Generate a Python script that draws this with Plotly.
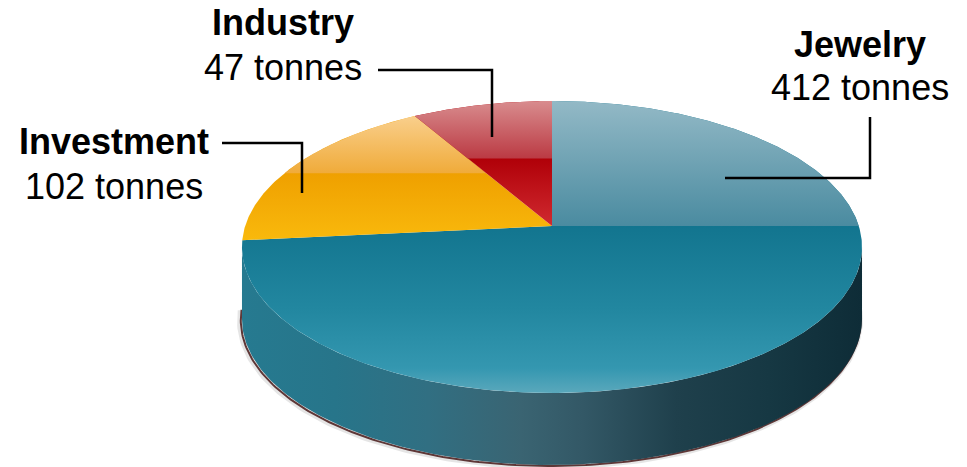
import numpy as np
import plotly.graph_objects as go

# ---------------- data ----------------
categories = ["Jewelry", "Investment", "Industry"]
values = [412, 102, 47]
unit = "tonnes"

# ---------------- styling / layout ----------------
W, H = 967, 467
CX, CY = 552.0, 226.0        # pie apex on screen
A, B, K = 306.8, 143.0, 0.1438  # perspective ellipse parameters
DEPTH = 72.0                 # thickness of pie

base_scales = {
    "Jewelry": [[0, "#12758f"], [0.5, "#2287a0"], [0.85, "#3497b0"], [1, "#5aa8bc"]],
    "Investment": [[0, "#efa000"], [1, "#f9b90c"]],
    "Industry": [[0, "#b00008"], [1, "#d02a30"]],
}
gloss_scales = {
    "Jewelry": [[0, "#93b9c6"], [1, "#4a8ba0"]],
    "Investment": [[0, "#f9cf8c"], [1, "#f0ab3a"]],
    "Industry": [[0, "#d88c8e"], [1, "#bb3a43"]],
}
side_scale = [[0, "#267a90"], [0.15, "#27758a"], [0.3, "#316f82"], [0.45, "#3a6472"],
              [0.55, "#335866"], [0.7, "#1f404c"], [0.85, "#163843"], [1, "#0e2c37"]]

# label text positions (x, y_title, y_value) and leader polyline (screen px)
label_pos = {
    "Jewelry": (860, 44, 87),
    "Investment": (114, 141, 186),
    "Industry": (283, 22, 67),
}
leaders = {
    "Jewelry": ([725, 870, 870], [178, 178, 117]),
    "Investment": ([222, 302, 302], [143, 143, 193]),
    "Industry": ([378, 492, 492], [70, 70, 137]),
}


def proj(phi_deg, dy=0.0):
    phi = np.radians(phi_deg)
    u, v = np.sin(phi), np.cos(phi)
    den = 1 + K * v
    return CX + A * u / den, CY + dy - B * v / den


def clip_above(xs, ys, yb):
    pts = list(zip(xs, ys))
    out = []
    n = len(pts)
    for i in range(n):
        P, Q = pts[i], pts[(i + 1) % n]
        pin, qin = P[1] <= yb, Q[1] <= yb
        if pin:
            out.append(P)
        if pin != qin:
            t = (yb - P[1]) / (Q[1] - P[1])
            out.append((P[0] + t * (Q[0] - P[0]), yb))
    return [p[0] for p in out], [p[1] for p in out]


fig = go.Figure()
common = dict(mode="lines", hoverinfo="skip", showlegend=False)

# ---- side wall (front visible part) ----
phi_t = np.degrees(np.arccos(-K))          # tangent angle (~98.3)
front = np.linspace(phi_t, 360 - phi_t, 200)
tx, ty = proj(front)
bx, by = proj(front[::-1], DEPTH)
sx = np.concatenate([tx, bx])
sy = np.concatenate([ty, by])

# soft shadow under the wall
shx, shy = proj(np.linspace(phi_t - 4, 364 - phi_t, 200)[::-1], DEPTH)
fig.add_trace(go.Scatter(x=shx - 2, y=shy + 1.5, line=dict(color="rgba(0,0,0,0.10)", width=6), **common))
fig.add_trace(go.Scatter(x=shx - 1.2, y=shy + 1.0, line=dict(color="rgba(70,25,25,0.85)", width=2), **common))

fig.add_trace(go.Scatter(
    x=sx, y=sy, fill="toself", line=dict(width=0),
    fillgradient=dict(type="horizontal", colorscale=side_scale, start=float(sx.min()), stop=float(sx.max())),
    **common))

# ---- top face slices ----
total = float(sum(values))
start = 0.0
for cat, val in zip(categories, values):
    span = 360.0 * val / total
    phis = np.linspace(start, start + span, max(int(span * 2), 6))
    ax, ay = proj(phis)
    px = np.concatenate([[CX], ax, [CX]])
    py = np.concatenate([[CY], ay, [CY]])
    ytop, ybot = float(py.min()), float(py.max())
    yb = min(CY, ytop + 0.46 * (ybot - ytop))
    fig.add_trace(go.Scatter(
        x=px, y=py, fill="toself", line=dict(width=0),
        fillgradient=dict(type="vertical", colorscale=base_scales[cat], start=yb, stop=ybot),
        **common))
    gx, gy = clip_above(px[:-1], py[:-1], yb)
    gx, gy = gx + [gx[0]], gy + [gy[0]]
    fig.add_trace(go.Scatter(
        x=gx, y=gy, fill="toself", line=dict(width=0),
        fillgradient=dict(type="vertical", colorscale=gloss_scales[cat], start=ytop, stop=yb),
        **common))
    start += span

# ---- labels and leader lines ----
FONT = "Liberation Sans, Arial, sans-serif"
for cat, val in zip(categories, values):
    lx, ly1, ly2 = label_pos[cat]
    fig.add_annotation(x=lx, y=ly1, text=f"<b>{cat}</b>", showarrow=False,
                       font=dict(family=FONT, size=36, color="black"), xanchor="center", yanchor="middle")
    fig.add_annotation(x=lx, y=ly2, text=f"{val} {unit}", showarrow=False,
                       font=dict(family=FONT, size=36, color="black"), xanchor="center", yanchor="middle")
    lxs, lys = leaders[cat]
    fig.add_trace(go.Scatter(x=lxs, y=lys, line=dict(color="black", width=2.5), **common))

fig.update_layout(
    width=W, height=H, autosize=False,
    margin=dict(l=0, r=0, t=0, b=0),
    paper_bgcolor="white", plot_bgcolor="white",
    xaxis=dict(range=[0, W], visible=False, fixedrange=True),
    yaxis=dict(range=[H, 0], visible=False, fixedrange=True),
)
fig.write_html("out.html", config={"displayModeBar": False})
